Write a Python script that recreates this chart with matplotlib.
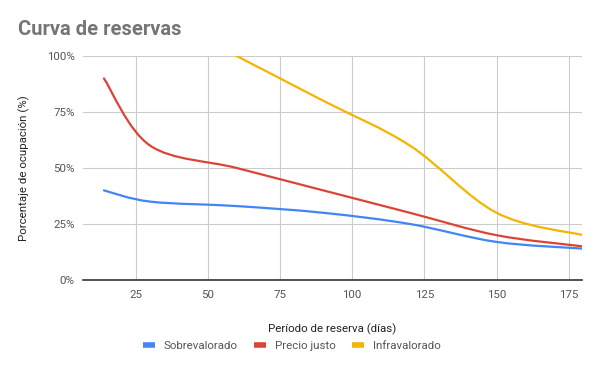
import matplotlib.pyplot as plt
import numpy as np
from matplotlib.path import Path
from matplotlib.patches import PathPatch
from matplotlib.lines import Line2D

plt.rcParams['font.family'] = ['Roboto', 'DejaVu Sans']

# data
dias = [14, 30, 60, 90, 120, 150, 180]
sobrevalorado = [40, 35, 33, 30, 25, 17, 14]
precio_justo = [90, 60, 50, 40, 30, 20, 15]
infravalorado = [140, 120, 100, 80, 60, 30, 20]

series = [
    ('Sobrevalorado', sobrevalorado, '#4285F4'),
    ('Precio justo', precio_justo, '#DB4437'),
    ('Infravalorado', infravalorado, '#F4B400'),
]


def smooth_path(xs, ys):
    # Catmull-Rom style curve as cubic bezier segments
    pts = np.column_stack([xs, ys]).astype(float)
    n = len(pts)
    verts = [pts[0]]
    codes = [Path.MOVETO]
    for i in range(n - 1):
        p0 = pts[max(i - 1, 0)]
        p1 = pts[i]
        p2 = pts[i + 1]
        p3 = pts[min(i + 2, n - 1)]
        c1 = p1 + (p2 - p0) / 6.0
        c2 = p2 - (p3 - p1) / 6.0
        verts += [c1, c2, p2]
        codes += [Path.CURVE4] * 3
    return Path(verts, codes)


fig = plt.figure(figsize=(6, 3.71), dpi=100)
ax = fig.add_axes([83 / 600, 91 / 371, 499 / 600, 224 / 371])

for name, vals, color in series:
    patch = PathPatch(smooth_path(dias, vals), facecolor='none', edgecolor=color,
                      linewidth=1.6, capstyle='round', joinstyle='round', zorder=3)
    ax.add_patch(patch)

ax.set_xlim(6.75, 179.6)
ax.set_ylim(0, 100)
ax.set_xticks([25, 50, 75, 100, 125, 150, 175])
ax.set_yticks([0, 25, 50, 75, 100])
ax.set_yticklabels(['0%', '25%', '50%', '75%', '100%'])

ax.grid(True, color='#cccccc', linewidth=0.8)
ax.set_axisbelow(True)
for s in ['top', 'right', 'left']:
    ax.spines[s].set_visible(False)
ax.spines['bottom'].set_color('#333333')
ax.spines['bottom'].set_linewidth(1.2)
ax.spines['bottom'].set_zorder(4)
ax.tick_params(length=0, labelsize=8.25, labelcolor='#555555', pad=7)
ax.tick_params(axis='y', pad=6)

ax.set_xlabel('Período de reserva (días)', fontsize=8.25, color='#222222', labelpad=17)
ax.set_ylabel('Porcentaje de ocupación (%)', fontsize=8.25, color='#222222', labelpad=12)

fig.text(18 / 600, 1 - 35 / 371, 'Curva de reservas', fontsize=14.5, fontweight='bold',
         color='#757575', ha='left', va='baseline')

handles = [Line2D([0], [0], color=c, linewidth=4, solid_capstyle='butt') for _, _, c in series]
fig.legend(handles, [n for n, _, _ in series], loc='center', bbox_to_anchor=(292 / 600, 1 - 346 / 371),
           ncol=3, frameon=False, fontsize=8.25, handlelength=1.0, handletextpad=0.8,
           columnspacing=1.45, labelcolor='#555555')

fig.savefig('out.png', dpi=100)
